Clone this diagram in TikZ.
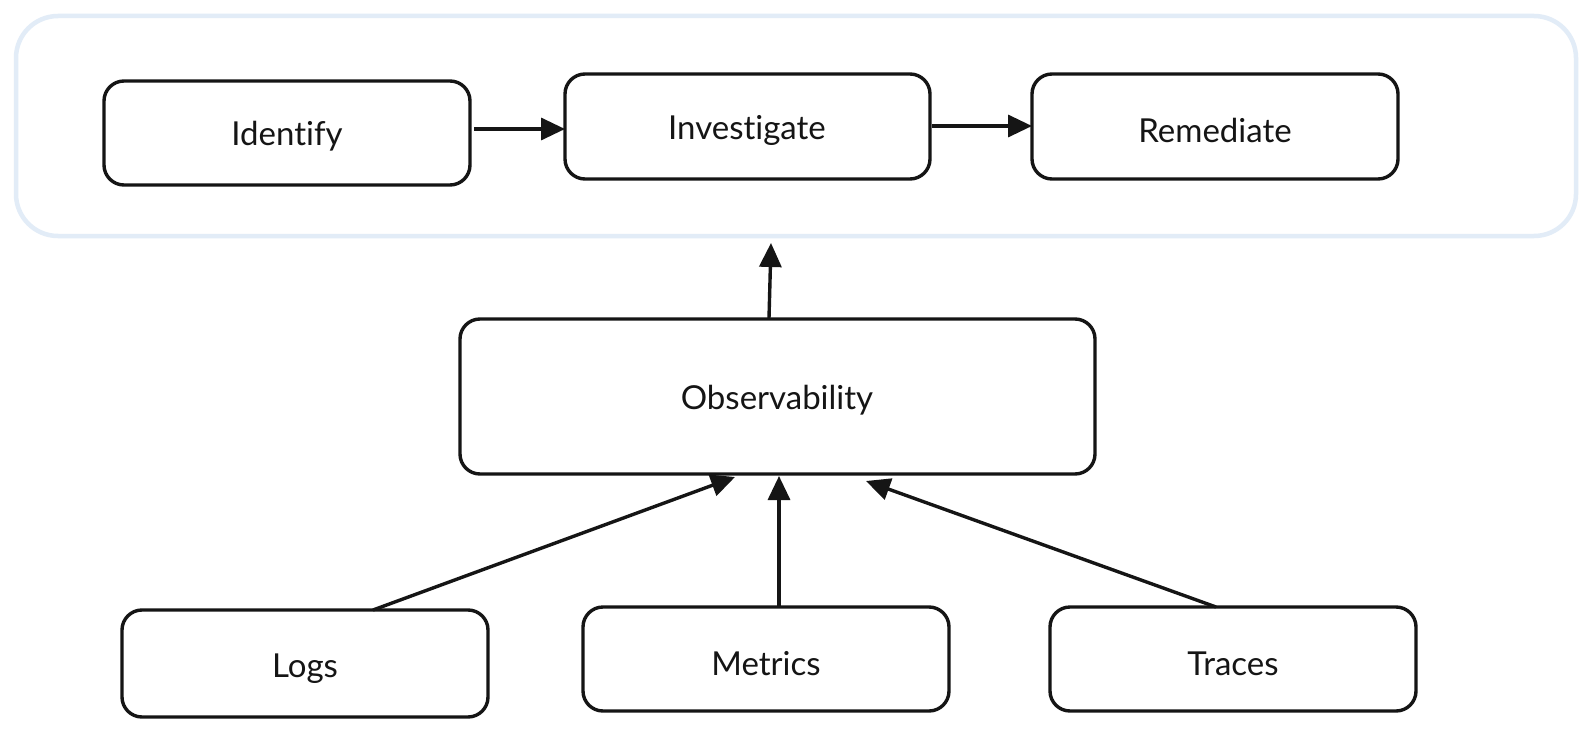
\documentclass[tikz,border=0pt]{standalone}
\usepackage{fontspec}
\setmainfont{Lato}[Ligatures=NoCommon]
\usetikzlibrary{arrows.meta}
\definecolor{contblue}{HTML}{E2ECF7}
\definecolor{ink}{HTML}{151515}
\begin{document}
\begin{tikzpicture}[x=1pt,y=-1pt,
  box/.style={draw=ink, line width=3.4pt, rounded corners=20pt, fill=white, inner sep=0pt},
  conn/.style={draw=ink, line width=3.4pt, -{Triangle[length=24pt,width=22pt]}},
  lbl/.style={font=\fontsize{33}{38}\selectfont, text=ink}]
\useasboundingbox (0,0) rectangle (1592,733);
\fill[white] (0,0) rectangle (1592,733);
% container
\draw[contblue, line width=4.5pt, rounded corners=42pt] (16,16) rectangle (1576,236);
% boxes
\draw[box] (104,81) rectangle (470,185);
\node[lbl] (identify) at (287,136) {Identify};
\coordinate (identifyE) at (474,129);
\draw[box] (565,74) rectangle (930,179);
\node[lbl] (investigate) at (747,130) {Investigate};
\coordinate (investigateW) at (565,129);
\coordinate (investigateE) at (932,126);
\draw[box] (1032,74) rectangle (1398,179);
\node[lbl] (remediate) at (1215,130) {Remediate};
\coordinate (remediateW) at (1032,126);
\draw[box] (460,319) rectangle (1095,474);
\node[lbl] (obs) at (777,400) {Observability};
\coordinate (obsN) at (769,318);
\coordinate (contS) at (771,243);
\draw[box] (122,610) rectangle (488,717);
\node[lbl] (logs) at (305,669) {Logs};
\draw[box] (583,607) rectangle (949,711);
\node[lbl] (metrics) at (766,664) {Metrics};
\draw[box] (1050,607) rectangle (1416,711);
\node[lbl] (traces) at (1233,664) {Traces};
\coordinate (logsN) at (373,610);
\coordinate (metricsN) at (779,607);
\coordinate (tracesN) at (1216,607);
\coordinate (obsL) at (735,477);
\coordinate (obsM) at (779,476);
\coordinate (obsR) at (866,481);
% connectors
\draw[conn] (identifyE) -- (investigateW);
\draw[conn] (investigateE) -- (remediateW);
\draw[conn] (obsN) -- (contS);
\draw[conn] (logsN) -- (obsL);
\draw[conn] (metricsN) -- (obsM);
\draw[conn] (tracesN) -- (obsR);
\end{tikzpicture}
\end{document}
